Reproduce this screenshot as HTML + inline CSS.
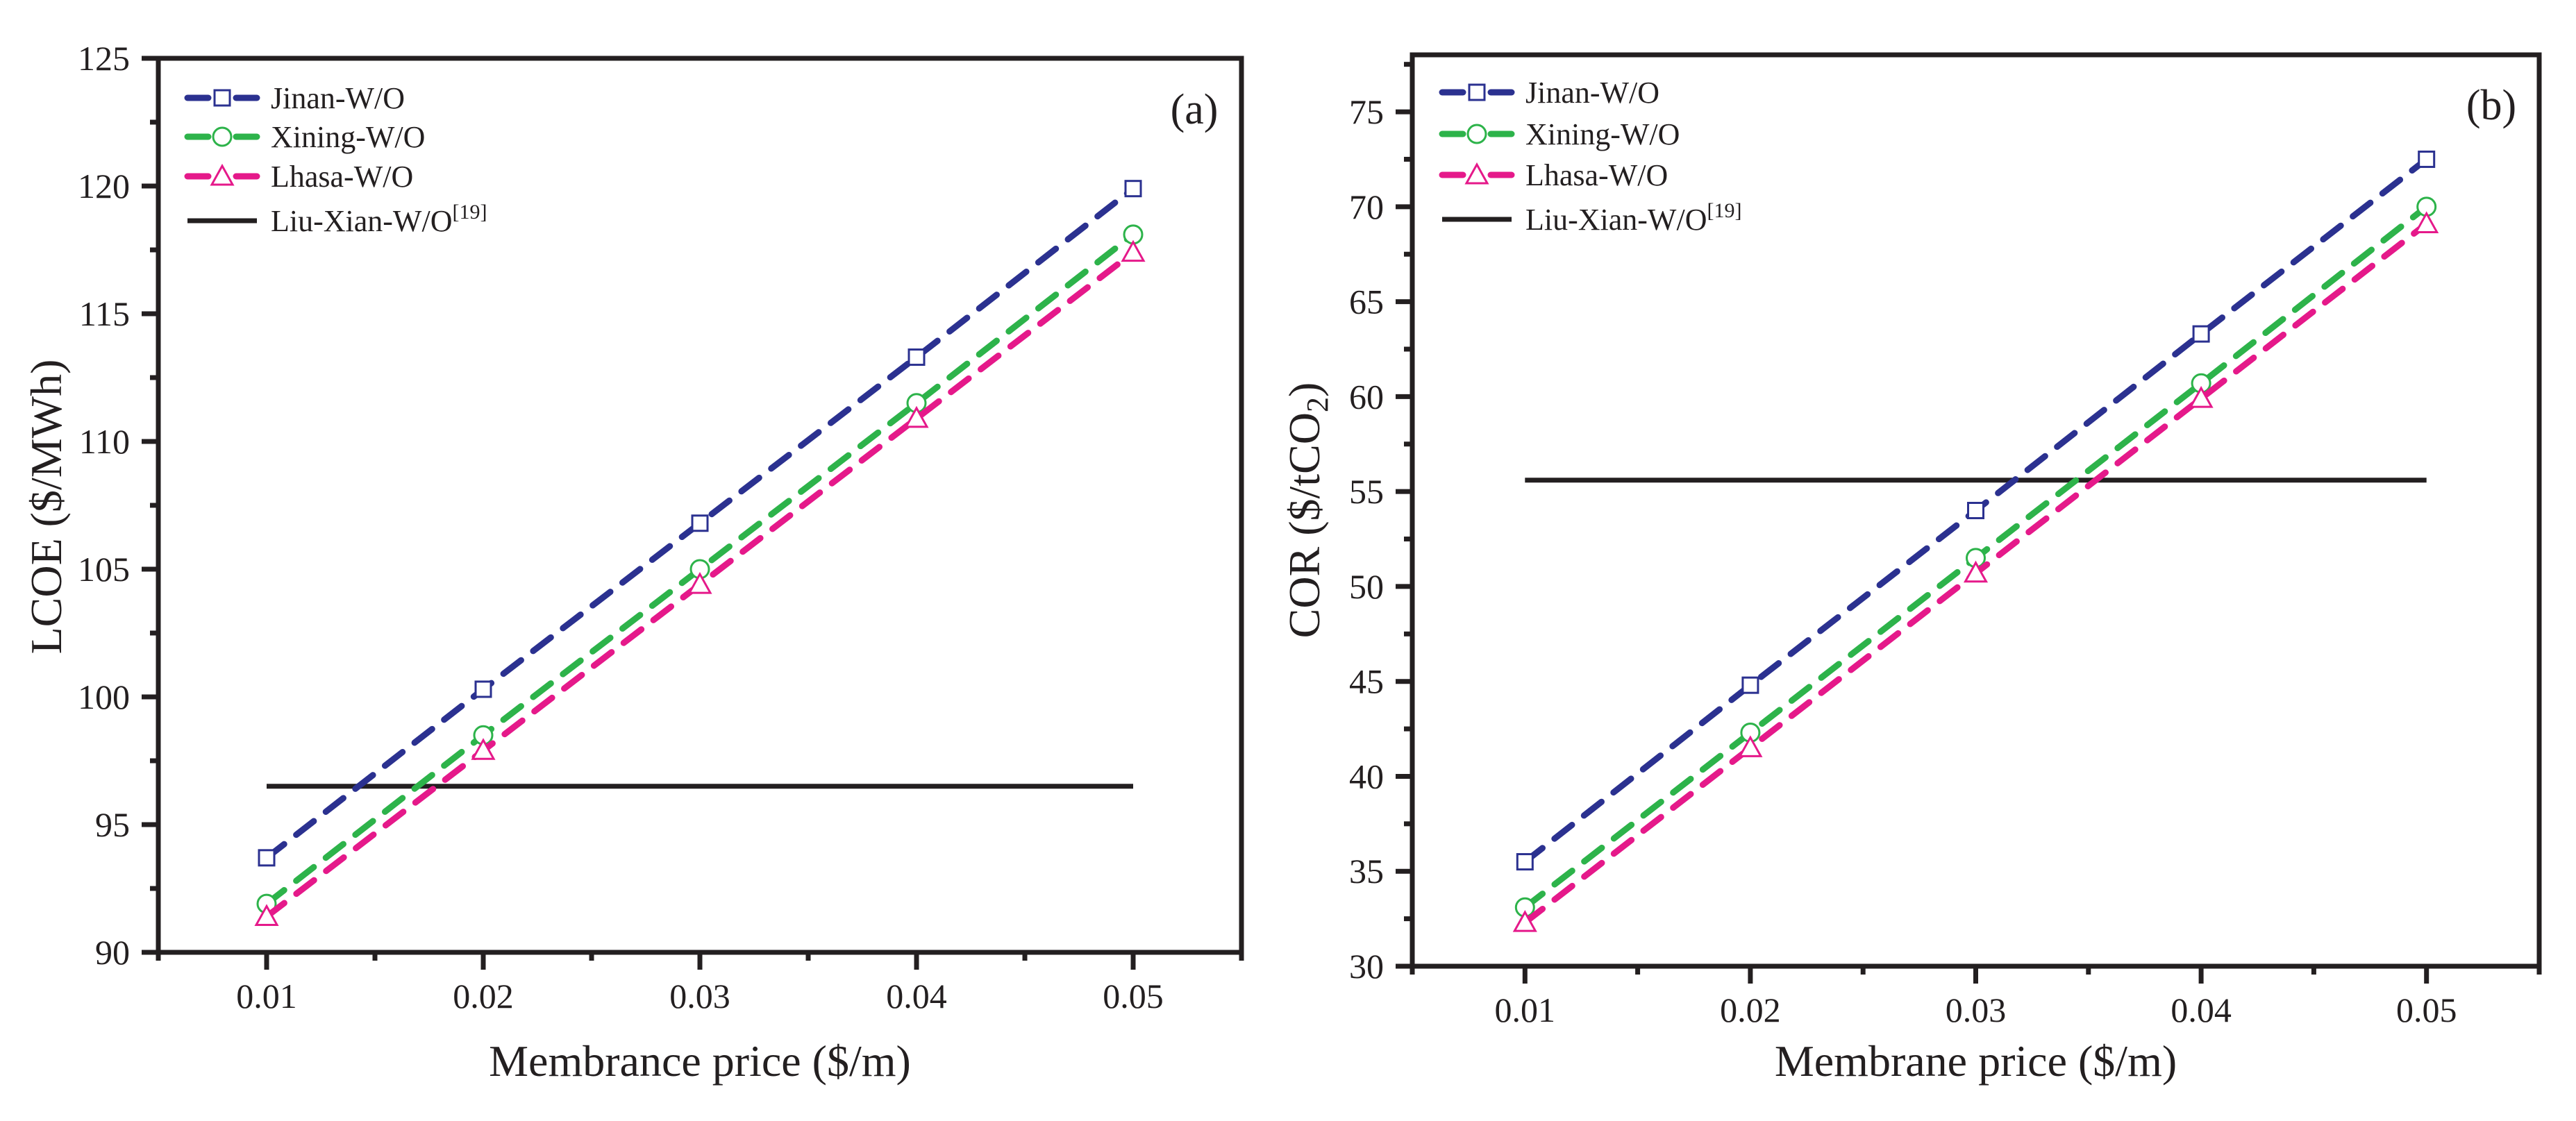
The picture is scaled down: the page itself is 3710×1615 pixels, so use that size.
<!DOCTYPE html>
<html><head><meta charset="utf-8"><style>
html,body{margin:0;padding:0;background:#fff;}
svg{display:block;font-family:"Liberation Serif",serif;}
</style></head><body>
<svg id="fig" width="3710" height="1615" viewBox="0 0 3710 1615" xmlns="http://www.w3.org/2000/svg"></svg>
<script>
const xCats = [0.01, 0.02, 0.03, 0.04, 0.05];
const xTickLabels = ["0.01","0.02","0.03","0.04","0.05"];
const lcoeJinan = [93.7, 100.3, 106.8, 113.3, 119.9];
const lcoeXining = [91.9, 98.5, 105.0, 111.5, 118.1];
const lcoeLhasa = [91.4, 97.9, 104.4, 110.9, 117.4];
const lcoeLiuXian = 96.5;
const lcoeTicks = [90, 95, 100, 105, 110, 115, 120, 125];
const corJinan = [35.5, 44.8, 54.0, 63.3, 72.5];
const corXining = [33.1, 42.3, 51.5, 60.7, 70.0];
const corLhasa = [32.3, 41.5, 50.7, 59.9, 69.1];
const corLiuXian = 55.6;
const corTicks = [30, 35, 40, 45, 50, 55, 60, 65, 70, 75];

const NS = "http://www.w3.org/2000/svg";
const svg = document.getElementById('fig');
function mk(tag, attrs, parent){const e=document.createElementNS(NS,tag);for(const k in attrs)e.setAttribute(k,attrs[k]);(parent||svg).appendChild(e);return e;}
const C = {jinan:"#2b3190", xining:"#2db34a", lhasa:"#e5198a", liu:"#231f20"};

function marker(g, type, x, y, color){
  let m;
  if(type==='sq') m=mk('rect',{x:x-11,y:y-11,width:22,height:22,fill:'#fff',stroke:color,'stroke-width':3},g);
  else if(type==='ci') m=mk('circle',{cx:x,cy:y,r:13,fill:'#fff',stroke:color,'stroke-width':3},g);
  else m=mk('polygon',{points:`${x},${y-15} ${x+15},${y+12} ${x-15},${y+12}`,fill:'#fff',stroke:color,'stroke-width':3},g);
  return m;
}

function panel(o){
  const g = mk('g',{});
  
  
  const X = v => o.L + (v - 0.005) / 0.05 * (o.R - o.L);
  const Y = v => o.B - (v - o.ymin) / (o.ymax - o.ymin) * (o.B - o.T);
  for(let v=o.ymin; v<=o.ymax+1e-9; v+=2.5){
    const major = Math.abs(v/5-Math.round(v/5))<1e-6;
    const t = mk('line',{x1:o.L-(major?24:12),x2:o.L,y1:Y(v),y2:Y(v),stroke:'#231f20','stroke-width':7},g);
    
    
  }
  o.yTicks.forEach(v=>{
    const t = mk('text',{x:o.L-41,y:Y(v)+17,'text-anchor':'end','font-size':50,fill:'#231f20'},g);
    t.textContent = v;
    
    
  });
  for(let v=0.005; v<=0.0551; v+=0.005){
    const major = Math.abs(v*100-Math.round(v*100))<1e-6;
    const t = mk('line',{x1:X(v),x2:X(v),y1:o.B,y2:o.B+(major?25:12),stroke:'#231f20','stroke-width':7},g);
    
    
  }
  xCats.forEach((v,i)=>{
    const t = mk('text',{x:X(v),y:o.B+80,'text-anchor':'middle','font-size':50,fill:'#231f20'},g);
    t.textContent = xTickLabels[i];
    
    
  });
  const fr = mk('rect',{x:o.L,y:o.T,width:o.R-o.L,height:o.B-o.T,fill:'none',stroke:'#231f20','stroke-width':7},g);
  
  
  const ref = mk('line',{x1:X(0.01),x2:X(0.05),y1:Y(o.liu),y2:Y(o.liu),stroke:C.liu,'stroke-width':7},g);
  
  
  const series = [[o.s1,C.jinan,'sq','jinan'],[o.s2,C.xining,'ci','xining'],[o.s3,C.lhasa,'tr','lhasa']];
  series.forEach(([d,col,mt,nm])=>{
    const pts = d.map((v,i)=>X(xCats[i])+','+Y(v)).join(' ');
    const pl = mk('polyline',{points:pts,fill:'none',stroke:col,'stroke-width':9,'stroke-dasharray':'32 22','stroke-linecap':'round'},g);
    
    
    d.forEach((v,i)=>{
      const m = marker(g, mt, X(xCats[i]), Y(v), col);
      
      
    });
  });
  const labels = ["Jinan-W/O","Xining-W/O","Lhasa-W/O","Liu-Xian-W/O"];
  const cols = [C.jinan,C.xining,C.lhasa,C.liu];
  const mts = ['sq','ci','tr',null];
  labels.forEach((lb,i)=>{
    const y = o.legY[i];
    const lg = mk('g',{},g);
    
    
    if(mts[i]){
      mk('line',{x1:o.legX,x2:o.legX+30,y1:y,y2:y,stroke:cols[i],'stroke-width':9,'stroke-linecap':'round'},lg);
      mk('line',{x1:o.legX+70,x2:o.legX+100,y1:y,y2:y,stroke:cols[i],'stroke-width':9,'stroke-linecap':'round'},lg);
      marker(lg, mts[i], o.legX+50, y, cols[i]);
    } else {
      mk('line',{x1:o.legX,x2:o.legX+100,y1:y,y2:y,stroke:cols[i],'stroke-width':7},lg);
    }
    const t = mk('text',{x:o.legX+120,y:y+15,'font-size':44,fill:'#231f20'},lg);
    t.textContent = lb;
    if(i===3){ const s=mk('tspan',{dy:-18,'font-size':30},t); s.textContent='[19]'; }
  });
  const pl = mk('text',{x:o.tagX,y:o.tagY,'text-anchor':'middle','font-size':62,fill:'#231f20'},g);
  pl.textContent = o.tag;
  
  
  const xt = mk('text',{x:(o.L+o.R)/2,y:1550,'text-anchor':'middle','font-size':64,fill:'#231f20'},g);
  xt.textContent = o.xTitle;
  
  
  const yt = mk('text',{x:0,y:0,'text-anchor':'middle','font-size':64,fill:'#231f20',transform:`translate(${o.ytX},${o.ytY}) rotate(-90)`},g);
  yt.textContent = o.yTitle;
  if(o.sub){ const s=mk('tspan',{dy:12,'font-size':44},yt); s.textContent='2'; const s2=mk('tspan',{dy:-12},yt); s2.textContent=')'; }
  
  
}

panel({name:'panel-a-lcoe',L:228,R:1788,T:84,B:1372,ymin:90,ymax:125,yTicks:lcoeTicks,
  s1:lcoeJinan,s2:lcoeXining,s3:lcoeLhasa,liu:lcoeLiuXian,legX:270,legY:[141,197,254,318],
  tag:'(a)',tagX:1720,tagY:178,xTitle:'Membrance price ($/m)',yTitle:'LCOE ($/MWh)',ytX:88,ytY:730});
panel({name:'panel-b-cor',L:2034,R:3657,T:79,B:1392,ymin:30,ymax:78,yTicks:corTicks,
  s1:corJinan,s2:corXining,s3:corLhasa,liu:corLiuXian,legX:2077,legY:[133,193,252,316],
  tag:'(b)',tagX:3588,tagY:172,xTitle:'Membrane price ($/m)',yTitle:'COR ($/tCO',sub:true,ytX:1900,ytY:735});
</script>
</body></html>
